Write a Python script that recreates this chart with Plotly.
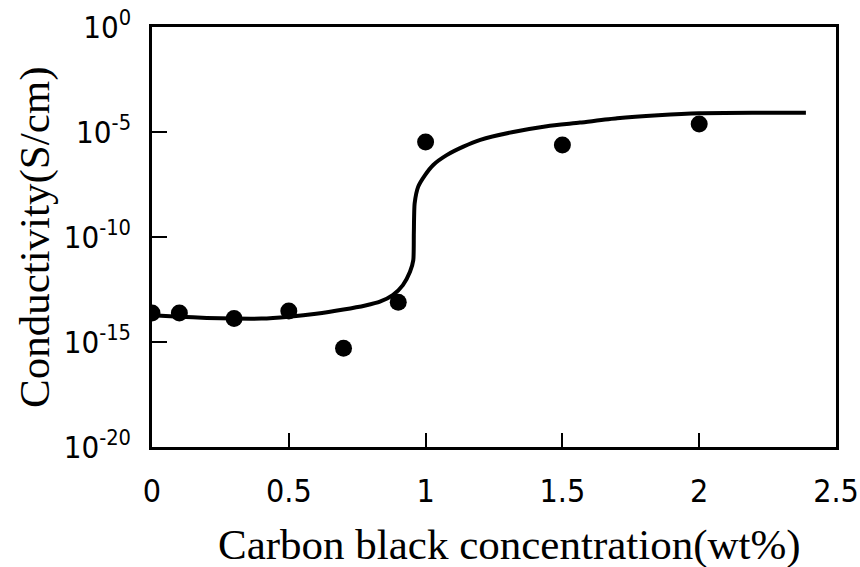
import plotly.graph_objects as go

# Measured data points
conc = [0, 0.1, 0.3, 0.5, 0.7, 0.9, 1.0, 1.5, 2.0]
cond = [2.4e-14, 2.4e-14, 1.3e-14, 3.0e-14, 5.1e-16, 7.9e-14, 3.3e-6, 2.4e-6, 2.4e-5]

# Fitted curve
curve_x = [0, 0.1, 0.2, 0.3, 0.4, 0.5, 0.6, 0.7, 0.78, 0.833, 0.88, 0.917, 0.943,
           0.955, 0.957, 0.96, 0.973, 0.998, 1.028, 1.077, 1.138, 1.2, 1.32, 1.443,
           1.564, 1.7, 1.85, 2.0, 2.2, 2.39]
curve_y = [1.9e-14, 1.6e-14, 1.4e-14, 1.3e-14, 1.3e-14, 1.6e-14, 2.2e-14, 3.5e-14,
           5.5e-14, 8.3e-14, 1.7e-13, 5.1e-13, 2.2e-12, 7.9e-12, 1.5e-10, 4.0e-9,
           2.5e-8, 8.9e-8, 2.7e-7, 7.9e-7, 2.0e-6, 4.2e-6, 1.0e-5, 1.9e-5, 2.8e-5,
           4.5e-5, 6.3e-5, 7.9e-5, 8.3e-5, 8.3e-5]

x_ticks = [0, 0.5, 1, 1.5, 2, 2.5]
x_labels = ["0", "0.5", "1", "1.5", "2", "2.5"]
y_ticks = [1, 1e-5, 1e-10, 1e-15, 1e-20]
y_labels = ["10<sup>0</sup>", "10<sup>-5</sup>", "10<sup>-10</sup>", "10<sup>-15</sup>", "10<sup>-20</sup>"]

tick_font = "Liberation Sans Narrow, DejaVu Sans Condensed, Arial Narrow, sans-serif"
title_font = "Liberation Serif, Times New Roman, serif"

fig = go.Figure()
fig.add_trace(go.Scatter(x=curve_x, y=curve_y, mode="lines",
                         line=dict(color="black", width=4, shape="spline", smoothing=0.6),
                         showlegend=False, hoverinfo="skip"))
fig.add_trace(go.Scatter(x=conc, y=cond, mode="markers",
                         marker=dict(color="black", size=17, line=dict(width=0)),
                         showlegend=False))

fig.update_layout(
    width=860, height=567,
    margin=dict(l=152, r=24, t=27, b=120),
    paper_bgcolor="white", plot_bgcolor="white",
    xaxis=dict(range=[0, 2.5], tickvals=x_ticks, ticktext=x_labels, automargin=False,
               ticks="inside", ticklen=14, tickwidth=2, tickcolor="black",
               showline=True, linecolor="black", linewidth=2.5, mirror=True,
               showgrid=False, zeroline=False, ticklabelstandoff=14,
               tickfont=dict(family=tick_font, size=32, color="black")),
    yaxis=dict(type="log", range=[-20, 0], tickvals=y_ticks, ticktext=y_labels, automargin=False,
               ticks="inside", ticklen=15, tickwidth=2, tickcolor="black",
               showline=True, linecolor="black", linewidth=2.5, mirror=True,
               showgrid=False, zeroline=False, ticklabelstandoff=12,
               tickfont=dict(family=tick_font, size=31, color="black")),
    annotations=[
        dict(text="Carbon black concentration(wt%)", xref="paper", yref="paper",
             x=0.523, y=-0.233, xanchor="center", yanchor="middle", showarrow=False,
             font=dict(family=title_font, size=43, color="black")),
        dict(text="Conductivity(S/cm)", xref="paper", yref="paper",
             x=-0.171, y=0.5, xanchor="center", yanchor="middle", showarrow=False,
             textangle=-90, font=dict(family=title_font, size=43, color="black")),
    ],
)

fig.write_html("out.html", config={"displayModeBar": False},
               post_script="document.body.style.margin='0px';")
